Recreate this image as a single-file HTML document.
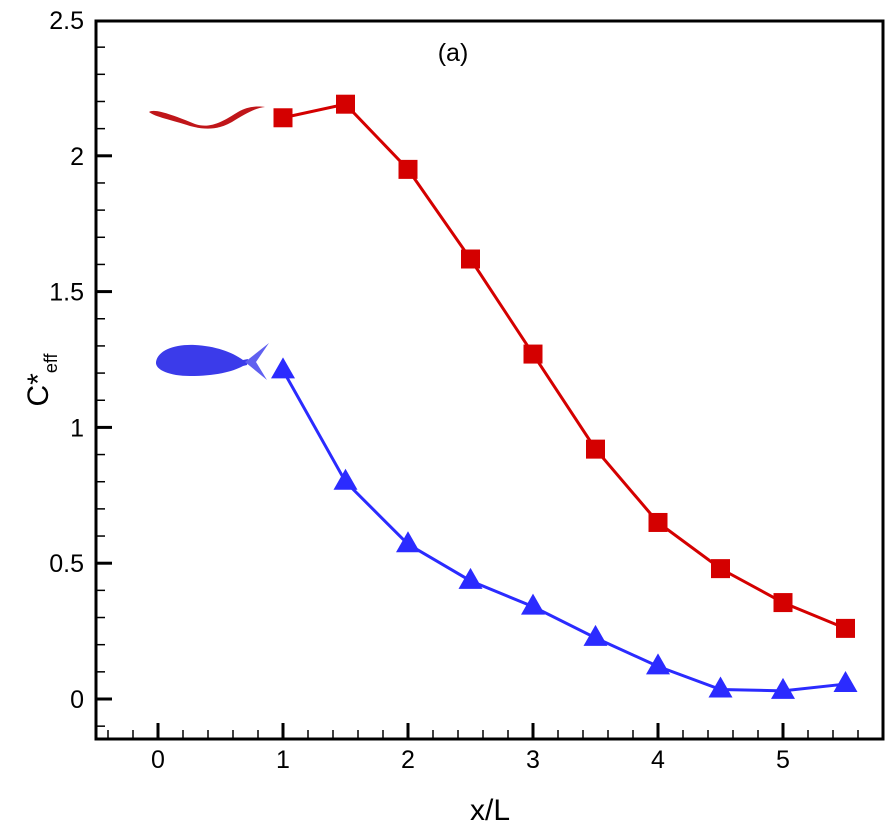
<!DOCTYPE html>
<html><head><meta charset="utf-8"><style>
body{margin:0;background:#fff;}
svg text{font-family:"Liberation Sans",sans-serif;}
</style></head><body>
<svg id="chart" width="896" height="824">
<g>
<path d="M149,112 C155,108 175,116 195,124 C210,129 222,122 238,112 C248,106 258,106 265,107 C255,108 245,114 232,122 C218,130 205,130 190,126 C172,120 155,117 149,112 Z" fill="#c0161a"/>
<g>
<path d="M156,362 C158,350 175,344 195,345 C215,346 232,352 243,360 L248,359 L247,365 L243,366 C232,372 215,376 190,376 C170,376 155,370 156,362 Z" fill="#3b3bea"/>
<path d="M245,362 L269,343 L256,362 L267,380 Z" fill="#6060f0"/>
</g>
</g>
<g id="axes"></g>
<g id="series"></g>
<text x="453" y="61" font-size="25" text-anchor="middle">(a)</text>
<text x="490" y="820" font-size="30" text-anchor="middle">x/L</text>
<text transform="translate(48,380) rotate(-90)" font-size="30" text-anchor="middle">C*<tspan font-size="18" dy="9">eff</tspan></text>
</svg>
<script>
const xs=[1,1.5,2,2.5,3,3.5,4,4.5,5,5.5];
const redVals=[2.14,2.19,1.95,1.62,1.27,0.92,0.65,0.48,0.355,0.26];
const blueVals=[1.21,0.80,0.57,0.435,0.34,0.225,0.12,0.035,0.03,0.055];
const xTicks=[0,1,2,3,4,5];
const yTicks=[0,0.5,1,1.5,2,2.5];
const L=96,R=883,T=21,B=739;
const X=v=>158+v*125;
const Y=v=>699-v*271.6;
const NS="http://www.w3.org/2000/svg";
function mk(tag,attrs,parent){const e=document.createElementNS(NS,tag);for(const k in attrs)e.setAttribute(k,attrs[k]);parent.appendChild(e);return e;}
const ax=document.getElementById('axes');
const fr=mk('rect',{x:L,y:T,width:R-L,height:B-T,fill:'none',stroke:'#000','stroke-width':3},ax);


for(let i=-2;i<=29;i++){const v=i*0.2;const x=X(v);if(x<L+2||x>R-2)continue;const maj=Math.abs(v-Math.round(v))<1e-6;
const t=mk('line',{x1:x,x2:x,y1:B,y2:B-(maj?16:9),stroke:'#000','stroke-width':maj?3:1.5},ax);

}
for(let i=-1;i<=25;i++){const v=i*0.1;const y=Y(v);if(y>B-2||y<T+2)continue;const maj=Math.abs(v*2-Math.round(v*2))<1e-6;
const t=mk('line',{x1:L,x2:L+(maj?16:9),y1:y,y2:y,stroke:'#000','stroke-width':maj?3:1.5},ax);

}
xTicks.forEach(v=>{const t=mk('text',{x:X(v),y:768,'font-size':25,'text-anchor':'middle'},ax);t.textContent=v;

});
yTicks.forEach(v=>{const t=mk('text',{x:84,y:Y(v)+9,'font-size':25,'text-anchor':'end'},ax);t.textContent=v;

});
const sg=document.getElementById('series');
function series(vals,color,shape,name){
const g=mk('g',{},sg);


const pl=mk('polyline',{points:xs.map((x,i)=>X(x)+','+Y(vals[i])).join(' '),fill:'none',stroke:color,'stroke-width':3},g);


xs.forEach((x,i)=>{const cx=X(x),cy=Y(vals[i]);let m;
if(shape==='sq')m=mk('rect',{x:cx-9.5,y:cy-9.5,width:19,height:19,fill:color},g);
else m=mk('polygon',{points:`${cx},${cy-13} ${cx+12},${cy+8} ${cx-12},${cy+8}`,fill:color},g);

});}
series(redVals,'#d40000','sq','eel-series');
series(blueVals,'#2b2bff','tri','fish-series');
</script>
</body></html>
